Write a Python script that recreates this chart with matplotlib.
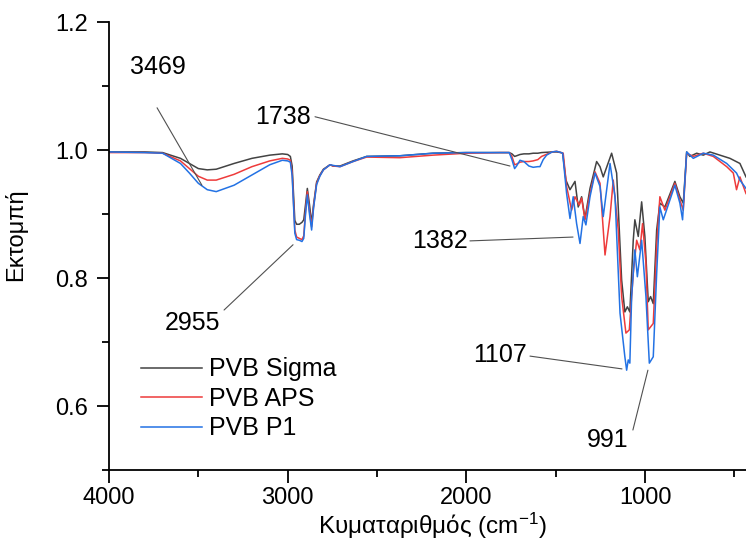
import matplotlib
matplotlib.use("Agg")
import matplotlib.pyplot as plt
from matplotlib.ticker import MultipleLocator

plt.rcParams['font.family'] = ['Liberation Sans', 'DejaVu Sans']
plt.rcParams['mathtext.fontset'] = 'custom'
plt.rcParams['mathtext.rm'] = 'Liberation Sans'
plt.rcParams['mathtext.default'] = 'regular'

# ---------------- data ----------------
common_wn = [4000, 3800, 3700, 3600, 3550, 3500, 3450, 3400, 3300, 3200, 3100, 3030, 3000,
             2985, 2975, 2960, 2950, 2935, 2920, 2910, 2900, 2890, 2878, 2866, 2855, 2838,
             2820, 2800, 2763, 2746, 2707, 2634, 2558, 2372, 2187, 2000, 1812, 1760]

sigma_wn = common_wn + [1745, 1730, 1719, 1700, 1678, 1650, 1626, 1600, 1579, 1520, 1495, 1470,
                        1461, 1443, 1420, 1392, 1374, 1355, 1336, 1308, 1271, 1252, 1234, 1187,
                        1159, 1131, 1113, 1099, 1085, 1066, 1057, 1038, 1019, 1001, 982, 969,
                        954, 935, 917, 889, 833, 805, 786, 767, 749, 711, 674, 637, 581, 525,
                        469, 435]
sigma_t = [0.997, 0.997, 0.996, 0.987, 0.979, 0.971, 0.969, 0.970, 0.979, 0.987, 0.992, 0.994, 0.993,
           0.990, 0.975, 0.890, 0.884, 0.884, 0.887, 0.891, 0.915, 0.940, 0.915, 0.886, 0.915, 0.950,
           0.961, 0.970, 0.977, 0.975, 0.975, 0.983, 0.990, 0.991, 0.995, 0.996, 0.996, 0.996,
           0.994, 0.990, 0.991, 0.993, 0.994, 0.994, 0.995, 0.995, 0.996, 0.997, 0.997, 0.996,
           0.995, 0.953, 0.938, 0.951, 0.911, 0.927, 0.893, 0.940, 0.982, 0.974, 0.958, 0.995,
           0.964, 0.797, 0.747, 0.755, 0.747, 0.859, 0.891, 0.865, 0.919, 0.865, 0.763, 0.771,
           0.760, 0.875, 0.917, 0.911, 0.951, 0.927, 0.917, 0.997, 0.990, 0.995, 0.992, 0.997,
           0.992, 0.987, 0.979, 0.958]

aps_wn = common_wn + [1745, 1730, 1719, 1700, 1678, 1650, 1626, 1600, 1579, 1520, 1495, 1470,
                      1458, 1439, 1411, 1392, 1368, 1355, 1336, 1308, 1280, 1252, 1224, 1196,
                      1178, 1150, 1131, 1107, 1088, 1066, 1047, 1029, 1014, 995, 982, 954, 935,
                      917, 889, 833, 805, 786, 767, 730, 674, 618, 543, 506, 488, 469, 435]
aps_t = [0.996, 0.996, 0.995, 0.983, 0.971, 0.959, 0.953, 0.953, 0.962, 0.974, 0.983, 0.987, 0.986,
         0.984, 0.965, 0.875, 0.864, 0.862, 0.860, 0.866, 0.905, 0.935, 0.905, 0.880, 0.912, 0.948,
         0.960, 0.969, 0.977, 0.975, 0.974, 0.982, 0.989, 0.988, 0.992, 0.995, 0.996, 0.996,
         0.990, 0.977, 0.978, 0.981, 0.982, 0.982, 0.983, 0.985, 0.990, 0.997, 0.998, 0.996,
         0.995, 0.943, 0.906, 0.927, 0.914, 0.925, 0.891, 0.932, 0.966, 0.948, 0.836, 0.896,
         0.953, 0.875, 0.771, 0.714, 0.719, 0.807, 0.859, 0.844, 0.885, 0.823, 0.719, 0.729,
         0.849, 0.927, 0.906, 0.948, 0.922, 0.906, 0.995, 0.990, 0.995, 0.990, 0.974, 0.964,
         0.938, 0.958, 0.932]

p1_wn = common_wn + [1745, 1730, 1719, 1700, 1678, 1650, 1626, 1600, 1588, 1570, 1551, 1520,
                     1495, 1470, 1461, 1439, 1420, 1402, 1383, 1364, 1346, 1331, 1308, 1280,
                     1252, 1234, 1196, 1168, 1140, 1113, 1103, 1094, 1085, 1075, 1057, 1043,
                     1019, 995, 976, 954, 935, 917, 898, 833, 805, 790, 767, 730, 674, 618,
                     543, 488, 469, 435]
p1_t = [0.997, 0.996, 0.995, 0.979, 0.964, 0.948, 0.938, 0.935, 0.945, 0.961, 0.977, 0.984, 0.983,
        0.981, 0.960, 0.870, 0.860, 0.859, 0.857, 0.862, 0.900, 0.930, 0.900, 0.875, 0.910, 0.946,
        0.959, 0.969, 0.977, 0.976, 0.974, 0.982, 0.990, 0.991, 0.995, 0.996, 0.996, 0.996,
        0.985, 0.971, 0.975, 0.984, 0.982, 0.975, 0.973, 0.974, 0.974, 0.985, 0.992, 0.997,
        0.998, 0.996, 0.995, 0.932, 0.893, 0.927, 0.885, 0.854, 0.896, 0.883, 0.927, 0.964,
        0.943, 0.896, 0.979, 0.927, 0.745, 0.677, 0.656, 0.672, 0.667, 0.771, 0.844, 0.802,
        0.859, 0.771, 0.667, 0.677, 0.807, 0.911, 0.891, 0.945, 0.917, 0.891, 0.997, 0.987,
        0.995, 0.992, 0.979, 0.964, 0.953, 0.940]

series_names = ["PVB Sigma", "PVB APS", "PVB P1"]
series_colors = ["#434343", "#ee3b3b", "#2372e4"]

# peak labels: (text, text position, line start, line end)
peak_labels = ["3469", "1738", "2955", "1382", "1107", "991"]
label_pos = [(3726, 1.130), (3026, 1.052), (3530, 0.730), (2148, 0.858), (1812, 0.680), (1208, 0.547)]
leader_start = [(3731, 1.066), (2847, 1.052), (3356, 0.750), (1980, 0.858), (1644, 0.678), (1068, 0.5625)]
leader_end = [(3480, 0.945), (1756, 0.975), (2970, 0.852), (1403, 0.864), (1129, 0.658), (984, 0.656)]

# ---------------- figure ----------------
fig = plt.figure(figsize=(7.46, 5.41), dpi=100)
ax = fig.add_axes([0.1461, 0.1312, 0.8539, 0.8281])

for wn, t, name, col in zip([sigma_wn, aps_wn, p1_wn], [sigma_t, aps_t, p1_t],
                            series_names, series_colors):
    ax.plot(wn, t, color=col, lw=1.1, label=name)

for txt, tp, ls, le in zip(peak_labels, label_pos, leader_start, leader_end):
    ax.text(tp[0], tp[1], txt, fontsize=18, ha='center', va='center', color='black')
    ax.annotate('', xy=le, xytext=ls,
                arrowprops=dict(arrowstyle='-', color='#505050', lw=0.8,
                                shrinkA=0, shrinkB=0))

ax.set_xlim(4000, 435)
ax.set_ylim(0.5, 1.2)
ax.xaxis.set_major_locator(MultipleLocator(1000))
ax.xaxis.set_minor_locator(MultipleLocator(500))
ax.yaxis.set_major_locator(MultipleLocator(0.2))
ax.yaxis.set_minor_locator(MultipleLocator(0.1))
ax.yaxis.set_major_formatter(plt.FuncFormatter(lambda v, p: f"{v:.1f}"))

for s in ['top', 'right']:
    ax.spines[s].set_visible(False)
for s in ['left', 'bottom']:
    ax.spines[s].set_linewidth(1.3)

ax.tick_params(which='major', direction='out', length=9, width=1.3, labelsize=17)
ax.tick_params(axis='x', which='major', pad=3)
ax.tick_params(axis='y', which='major', pad=6)
ax.tick_params(which='minor', direction='out', length=5, width=1.3)

ax.set_xlabel("Κυματαριθμός (cm$^{-1}$)", fontsize=17.5)
ax.xaxis.set_label_coords(0.507, -0.091)
ax.set_ylabel("Εκτομπή", fontsize=17)
ax.yaxis.set_label_coords(-0.128, 0.526)

leg = ax.legend(loc='lower left', bbox_to_anchor=(0.05, 0.066), frameon=False,
                fontsize=18, handlelength=2.44, handletextpad=0.28, labelspacing=0.22,
                borderpad=0, borderaxespad=0)
for line in leg.get_lines():
    line.set_linewidth(1.1)

fig.savefig("out.png", dpi=100)
